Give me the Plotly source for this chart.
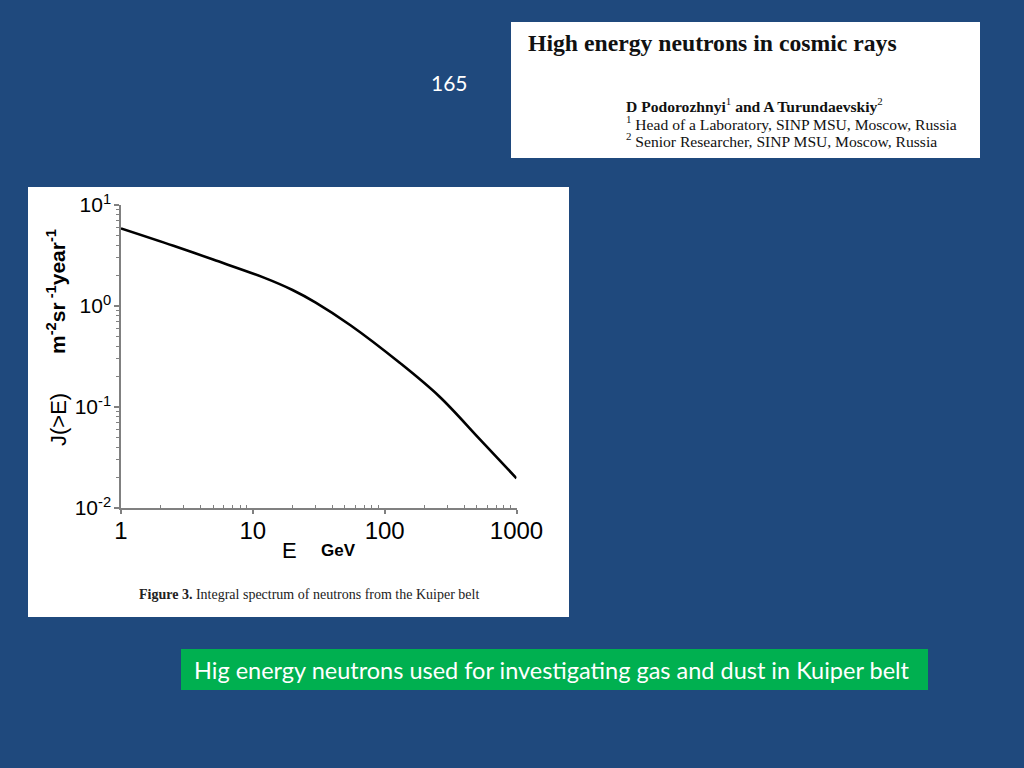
import plotly.graph_objects as go

# Data (integral neutron spectrum J(>E))
energy_gev = [1, 2.5, 5, 12, 20, 30, 55, 130, 260, 530, 1000]
flux_j = [5.87, 3.95, 2.88, 1.92, 1.44, 1.08, 0.645, 0.274, 0.127, 0.0475, 0.0197]

x_tickvals = [1, 10, 100, 1000]
x_ticktext = ["1", "10", "100", "1000"]
y_tickvals = [0.01, 0.1, 1, 10]
y_ticktext = ["10<sup>-2</sup>", "10<sup>-1</sup>", "10<sup>0</sup>", "10<sup>1</sup>"]
minor_digits = [2, 3, 4, 5, 6, 7, 8, 9]
x_minor = [d * base for base in [1, 10, 100] for d in minor_digits]
y_minor = [d * base for base in [0.01, 0.1, 1] for d in minor_digits]

W, H = 1024, 768
def px(x):
    return x / W
def py(y):
    return 1 - y / H

fig = go.Figure()
fig.add_trace(go.Scatter(
    x=energy_gev, y=flux_j, mode="lines",
    line=dict(color="black", width=2.6, shape="spline", smoothing=1.0),
    hoverinfo="skip", showlegend=False,
))

shapes = [
    dict(type="rect", xref="paper", yref="paper", x0=px(28), x1=px(569), y0=py(617), y1=py(187),
         fillcolor="white", line=dict(width=0), layer="below"),
    dict(type="rect", xref="paper", yref="paper", x0=px(511), x1=px(980), y0=py(158), y1=py(22),
         fillcolor="white", line=dict(width=0), layer="below"),
    dict(type="rect", xref="paper", yref="paper", x0=px(181), x1=px(928), y0=py(690), y1=py(649),
         fillcolor="#00b050", line=dict(width=0), layer="below"),
]

serif = "Liberation Serif"
sans = "Liberation Sans"
annotations = [
    dict(text="165", x=px(449), y=py(83), xref="paper", yref="paper", showarrow=False,
         font=dict(family="Lato", size=21, color="white"), xanchor="center", yanchor="middle"),
    dict(text="<b>High energy neutrons in cosmic rays</b>", x=px(526), y=py(43), xref="paper", yref="paper",
         showarrow=False, font=dict(family=serif, size=23.7, color="#111111"), xanchor="left", yanchor="middle"),
    dict(text="<b>D Podorozhnyi</b><sup>1</sup><b> and A Turundaevskiy</b><sup>2</sup>", x=px(624), y=py(105),
         xref="paper", yref="paper", showarrow=False, font=dict(family=serif, size=15.6, color="#111111"),
         xanchor="left", yanchor="middle"),
    dict(text="<sup>1</sup> Head of a Laboratory, SINP MSU, Moscow, Russia", x=px(624), y=py(123),
         xref="paper", yref="paper", showarrow=False, font=dict(family=serif, size=15.6, color="#111111"),
         xanchor="left", yanchor="middle"),
    dict(text="<sup>2</sup> Senior Researcher, SINP MSU, Moscow, Russia", x=px(624), y=py(140),
         xref="paper", yref="paper", showarrow=False, font=dict(family=serif, size=15.6, color="#111111"),
         xanchor="left", yanchor="middle"),
    dict(text="J(>E)", x=px(58), y=py(420), xref="paper", yref="paper", showarrow=False, textangle=-90,
         font=dict(family=sans, size=22, color="black"), xanchor="center", yanchor="middle"),
    dict(text="<b>m<sup>-2</sup>sr<sup> -1</sup>year<sup>-1</sup></b>", x=px(56), y=py(292), xref="paper",
         yref="paper", showarrow=False, textangle=-90, font=dict(family=sans, size=21, color="black"),
         xanchor="center", yanchor="middle"),
    dict(text="E", x=px(289), y=py(550), xref="paper", yref="paper", showarrow=False,
         font=dict(family=sans, size=22, color="black"), xanchor="center", yanchor="middle"),
    dict(text="<b>GeV</b>", x=px(338), y=py(550), xref="paper", yref="paper", showarrow=False,
         font=dict(family=sans, size=17, color="black"), xanchor="center", yanchor="middle"),
    dict(text="<b>Figure 3.</b> Integral spectrum of neutrons from the Kuiper belt", x=px(309), y=py(594),
         xref="paper", yref="paper", showarrow=False, font=dict(family=serif, size=14, color="#222222"),
         xanchor="center", yanchor="middle"),
    dict(text="Hig energy neutrons used for investigating gas and dust in Kuiper belt", x=px(552), y=py(670),
         xref="paper", yref="paper", showarrow=False, font=dict(family="Lato", size=23.5, color="white"),
         xanchor="center", yanchor="middle"),
]

axis_common = dict(
    showgrid=False, zeroline=False, automargin=False,
    showline=True, linecolor="#808080", linewidth=1.5,
    tickcolor="#808080", tickwidth=1.5,
)

fig.update_layout(
    template="none",
    width=W, height=H,
    margin=dict(l=0, r=0, t=0, b=0, pad=0, autoexpand=False),
    paper_bgcolor="#1f497d",
    plot_bgcolor="white",
    shapes=shapes,
    annotations=annotations,
    showlegend=False,
    xaxis=dict(
        type="log", range=[0, 3], domain=[px(121), px(516.5)],
        tickvals=x_tickvals, ticktext=x_ticktext,
        tickfont=dict(family=sans, size=24, color="black"),
        ticks="outside", ticklen=4, ticklabelstandoff=-4,
        minor=dict(tickvals=x_minor, ticks="inside", ticklen=3.5, tickcolor="#808080", tickwidth=1.2,
                   showgrid=False),
        **axis_common,
    ),
    yaxis=dict(
        type="log", range=[-2, 1], domain=[py(508), py(205)],
        tickvals=y_tickvals, ticktext=y_ticktext,
        tickfont=dict(family=sans, size=21, color="black"),
        ticks="outside", ticklen=5, ticklabelstandoff=-1,
        minor=dict(tickvals=y_minor, ticks="outside", ticklen=3, tickcolor="#808080", tickwidth=1.2,
                   showgrid=False),
        **axis_common,
    ),
)

fig.write_html(
    "out.html",
    config={"displayModeBar": False},
    post_script="document.body.style.margin='0';document.body.style.padding='0';"
                "document.documentElement.style.overflow='hidden';",
)
